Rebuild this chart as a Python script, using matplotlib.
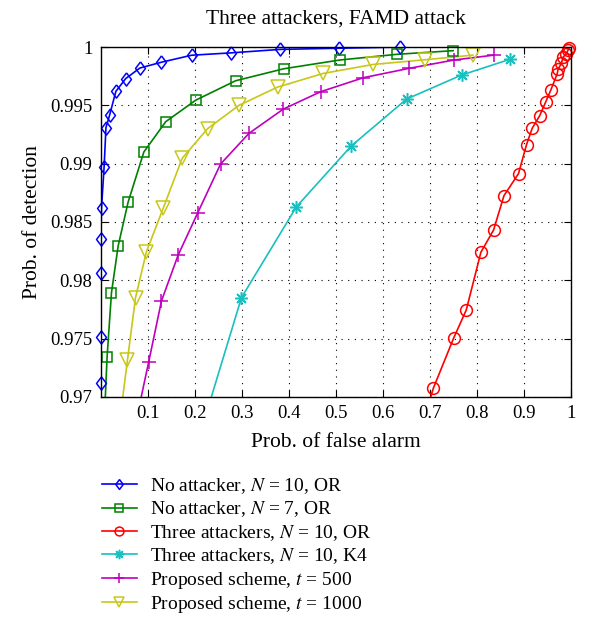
import numpy as np
import matplotlib.pyplot as plt
from matplotlib.lines import Line2D
from matplotlib.ticker import FixedLocator

plt.rcParams['font.family'] = ['Liberation Serif', 'DejaVu Serif']
plt.rcParams['mathtext.fontset'] = 'stix'

# The first point of each curve lies just below 0.97
# so the line runs down to the bottom edge of the axes.
pfa_none10 = [0.0, 0.0, 0.0, 0.0, 0.0, 0.0015, 0.007, 0.011, 0.019, 0.032, 0.053,
              0.083, 0.129, 0.193, 0.276, 0.381, 0.506, 0.636, 0.745]
pd_none10 = [0.9685, 0.9712, 0.9751, 0.9806, 0.9835, 0.9862, 0.9897, 0.9931, 0.9942,
             0.9962, 0.9973, 0.9982, 0.9987, 0.9993, 0.9995, 0.9998, 0.9999, 1.0, 1.0]

pfa_none7 = [0.008, 0.0134, 0.0227, 0.0369, 0.058, 0.0915, 0.138, 0.202, 0.2865,
             0.389, 0.508, 0.630, 0.749]
pd_none7 = [0.9685, 0.97345, 0.97894, 0.98294, 0.98669, 0.9910, 0.9936, 0.99545,
            0.99711, 0.99814, 0.99889, 0.99938, 0.99969]

pfa_att10 = [0.690, 0.707, 0.750, 0.777, 0.808, 0.835, 0.857, 0.888, 0.905, 0.917,
             0.933, 0.946, 0.957, 0.970, 0.972, 0.979, 0.983, 0.990, 0.993, 0.995]
pd_att10 = [0.9685, 0.97075, 0.97503, 0.97746, 0.9824, 0.98431, 0.98725, 0.98915,
            0.99163, 0.99303, 0.99411, 0.99531, 0.99635, 0.99769, 0.99808, 0.99860,
            0.99915, 0.99943, 0.99972, 0.99988]

pfa_k4 = [0.205, 0.299, 0.416, 0.532, 0.650, 0.767, 0.869]
pd_k4 = [0.9660, 0.97851, 0.98631, 0.99150, 0.99554, 0.99760, 0.99894]

pfa_t500 = [0.078, 0.102, 0.129, 0.1645, 0.2057, 0.2546, 0.315, 0.388, 0.4674,
            0.558, 0.656, 0.751, 0.836]
pd_t500 = [0.9685, 0.97303, 0.97823, 0.98217, 0.98575, 0.98997, 0.99260, 0.99468,
           0.99617, 0.99737, 0.99818, 0.99889, 0.99931]

pfa_t1000 = [0.042, 0.0567, 0.0738, 0.097, 0.1326, 0.173, 0.227, 0.2936, 0.376,
             0.473, 0.579, 0.689, 0.791]
pd_t1000 = [0.9685, 0.97317, 0.97851, 0.98245, 0.98617, 0.99046, 0.9930, 0.9950,
            0.99657, 0.99774, 0.99851, 0.99891, 0.99931]

labels = ['No attacker, $N$ = 10, OR', 'No attacker, $N$ = 7, OR',
          'Three attackers, $N$ = 10, OR', 'Three attackers, $N$ = 10, K4',
          'Proposed scheme, $t$ = 500', 'Proposed scheme, $t$ = 1000']

# MATLAB-like diamond (a bit taller than wide)
diamond = [(0, 1), (0.75, 0), (0, -1), (-0.75, 0), (0, 1)]

series = [
    (pfa_none10, pd_none10, (0, 0, 1), diamond, 9.5, 1),
    (pfa_none7, pd_none7, (0, 0.5, 0), 's', 7, 0),
    (pfa_att10, pd_att10, (1, 0, 0), 'o', 8.5, 0),
    (pfa_k4, pd_k4, (0.1, 0.75, 0.75), (8, 2, 0), 9, 0),
    (pfa_t500, pd_t500, (0.75, 0, 0.75), '+', 10, 0),
    (pfa_t1000, pd_t1000, (0.78, 0.78, 0.1), 'v', 10, 0),
]

fig = plt.figure(figsize=(6, 6.36), dpi=100)
ax = fig.add_axes([0.168, 0.376, 0.784, 0.550])

ymin, ymax = 0.97, 1.0
handles = []
for (x, y, c, m, ms, skip_end), lab in zip(series, labels):
    x = np.array(x)
    y = np.array(y)
    ax.plot(x, y, color=c, lw=1.2, zorder=3)
    # markers are not clipped at the axes edge (as in the original)
    keep = y >= ymin
    if skip_end:
        keep[-1] = False
    ax.plot(x[keep], y[keep], ls='none', marker=m, ms=ms, mfc='none', mec=c,
            mew=1.1, clip_on=False, zorder=4)
    handles.append(Line2D([], [], color=c, lw=1.2, marker=m, ms=ms * 0.75,
                          mfc='none', mec=c, mew=1.1, label=lab))

ax.set_xlim(0, 1)
ax.set_ylim(ymin, ymax)
xt = [0.1, 0.2, 0.3, 0.4, 0.5, 0.6, 0.7, 0.8, 0.9, 1.0]
yt = [0.97, 0.975, 0.98, 0.985, 0.99, 0.995, 1.0]
ax.xaxis.set_major_locator(FixedLocator(xt))
ax.yaxis.set_major_locator(FixedLocator(yt))
ax.set_xticklabels(['0.1', '0.2', '0.3', '0.4', '0.5', '0.6', '0.7', '0.8', '0.9', '1'])
ax.set_yticklabels(['0.97', '0.975', '0.98', '0.985', '0.99', '0.995', '1'])
ax.tick_params(direction='in', top=True, right=True, labelsize=13.5, length=5, pad=6)
ax.grid(True, color='black', linestyle=(0, (1, 5)), linewidth=0.8)
for s in ax.spines.values():
    s.set_linewidth(1.0)
    s.set_zorder(5)

ax.set_title('Three attackers, FAMD attack', fontsize=15.5, pad=17)
ax.set_xlabel('Prob. of false alarm', fontsize=15.5, labelpad=8)
ax.set_ylabel('Prob. of detection', fontsize=15.5, labelpad=6)

ax.legend(handles=handles, loc='upper left', bbox_to_anchor=(-0.015, -0.205),
          frameon=False, fontsize=14, handlelength=1.8, handletextpad=0.7,
          labelspacing=0.18, borderaxespad=0)

fig.savefig('out.png', dpi=100)
